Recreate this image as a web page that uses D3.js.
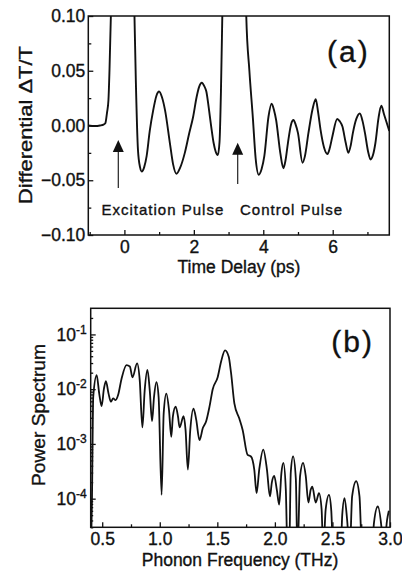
<!DOCTYPE html>
<html>
<head>
<meta charset="utf-8">
<script src="https://cdn.jsdelivr.net/npm/d3@7"></script>
<style>
body { margin: 0; background: #fff; }
svg text { font-family: "Liberation Sans", Arial, sans-serif; fill: #111; stroke: #111; stroke-width: 0.35px; }
</style>
</head>
<body>
<svg id="chart" width="402" height="576"></svg>
<script>
// panel (a): differential transmission vs time delay
const timeDelay = [-1.04, -0.85, -0.70, -0.60, -0.55, -0.50, -0.46, -0.43, -0.39, -0.30, -0.05, 0.20, 0.29, 0.33, 0.39, 0.45, 0.50, 0.57, 0.64, 0.73,
    0.83, 0.92, 1.00, 1.08, 1.17, 1.31, 1.40, 1.50, 1.60, 1.74, 1.86, 1.98, 2.08, 2.15, 2.23, 2.30, 2.36, 2.43, 2.50, 2.57,
    2.63, 2.69, 2.74, 2.78, 2.82, 2.90, 3.15, 3.42, 3.51, 3.60, 3.70, 3.78, 3.87, 3.95, 4.03, 4.15, 4.24, 4.31, 4.37, 4.49,
    4.58, 4.64, 4.71, 4.80, 4.87, 4.93, 5.00, 5.13, 5.20, 5.30, 5.42, 5.51, 5.58, 5.65, 5.75, 5.85, 5.92, 5.99, 6.13, 6.20,
    6.28, 6.37, 6.45, 6.52, 6.58, 6.68, 6.78, 6.86, 6.93, 7.02, 7.09, 7.16, 7.23, 7.32, 7.40, 7.48, 7.63];
const diffT = [0.0, -0.0005, 0.0, 0.0008, 0.002, 0.012, 0.023, 0.05, 0.10, 0.25, 0.6, 0.25, 0.10, 0.04, -0.022, -0.038, -0.042, -0.038, -0.028, -0.005,
    0.014, 0.027, 0.031, 0.026, 0.014, -0.016, -0.035, -0.044, -0.039, -0.025, -0.008, 0.008, 0.026, 0.035, 0.039, 0.036, 0.031, 0.016, -0.001, -0.016,
    -0.024, -0.027, -0.015, 0.03, 0.10, 0.25, 0.6, 0.25, 0.10, 0.05, 0.007, -0.03, -0.045, -0.04, -0.028, 0.008, 0.020, 0.014, 0.005, -0.025,
    -0.039, -0.032, -0.016, 0.001, 0.005, 0.001, -0.007, -0.034, -0.028, -0.007, 0.015, 0.024, 0.012, -0.004, -0.020, -0.026, -0.02, -0.01, 0.006, 0.004,
    -0.001, -0.015, -0.025, -0.018, -0.007, 0.006, 0.011, 0.004, -0.007, -0.024, -0.031, -0.027, -0.016, 0.007, 0.018, 0.010, -0.005];
const timeTicks = [0, 2, 4, 6];
const timeMinor = [-1, 1, 3, 5, 7];
const dtTicks = [-0.10, -0.05, 0.00, 0.05, 0.10];
const dtMinor = [-0.075, -0.025, 0.025, 0.075];

// panel (b): power spectrum vs phonon frequency
const freq = [0.405, 0.411, 0.422, 0.452, 0.474, 0.495, 0.515, 0.532, 0.555, 0.575, 0.595, 0.616, 0.638, 0.668, 0.711, 0.740, 0.763, 0.803, 0.826, 0.849,
    0.869, 0.893, 0.913, 0.933, 0.950, 0.971, 0.990, 1.016, 1.034, 1.057, 1.080, 1.100, 1.114, 1.138, 1.158, 1.172, 1.207, 1.224, 1.244, 1.265,
    1.293, 1.317, 1.345, 1.374, 1.403, 1.432, 1.460, 1.503, 1.533, 1.567, 1.599, 1.619, 1.648, 1.691, 1.720, 1.763, 1.792, 1.821, 1.841, 1.864,
    1.899, 1.931, 1.957, 1.974, 1.994, 2.017, 2.037, 2.057, 2.074, 2.095, 2.110, 2.124, 2.138, 2.158, 2.182, 2.196, 2.219, 2.245, 2.268, 2.291,
    2.311, 2.325, 2.355, 2.383, 2.406, 2.420, 2.441, 2.470, 2.490, 2.507, 2.571, 2.585, 2.605, 2.628, 2.650, 2.671, 2.706, 2.735, 2.758, 2.844,
    2.860, 2.894, 2.926, 2.945, 2.974, 2.990];
const power = [2e-5, 9.5e-5, 7.2e-3, 1.8e-2, 8.3e-3, 4.9e-3, 1.02e-2, 1.4e-2, 8.3e-3, 5.9e-3, 6.8e-3, 6.3e-3, 7.8e-3, 1.55e-2, 2.75e-2, 2.6e-2, 1.65e-2, 2.95e-2, 1.45e-2, 2.0e-3,
    9.5e-3, 2.25e-2, 9.5e-3, 2.6e-3, 7.2e-3, 1.35e-2, 7.2e-3, 1.17e-4, 3.6e-3, 8.3e-3, 4.2e-3, 1.35e-3, 3.2e-3, 4.8e-3, 3.2e-3, 2.0e-3, 3.2e-3, 1.8e-3, 3.4e-4, 1.8e-3,
    4.4e-3, 2.75e-3, 1.17e-3, 1.95e-3, 2.6e-3, 4.8e-3, 1.0e-2, 1.65e-2, 3.2e-2, 5.1e-2, 3.9e-2, 2.0e-2, 5.5e-3, 2.9e-3, 1.8e-3, 6.3e-4, 5.9e-4, 3.4e-4, 1.26e-4, 3.4e-4,
    7.9e-4, 3.4e-4, 1.1e-4, 2.0e-4, 2.6e-4, 1.45e-4, 7.8e-5, 3.0e-4, 4.5e-4, 1.45e-4, 1e-5, 1e-5, 3.0e-4, 5.9e-4, 2.3e-4, 1e-5, 2.6e-4, 4.5e-4, 2.6e-4, 8.5e-5,
    1.45e-4, 1.66e-4, 8.5e-5, 1.26e-4, 6.3e-5, 1e-5, 6.3e-5, 1.17e-4, 6e-5, 1e-5, 1e-5, 5e-5, 1.02e-4, 4e-5, 1e-5, 1.1e-4, 2.1e-4, 1.1e-4, 1e-5, 1e-5,
    3.5e-5, 7.2e-5, 3e-5, 1e-5, 4e-5, 6e-5];
const freqTicks = [0.5, 1.0, 1.5, 2.0, 2.5, 3.0];
const freqMinor = [0.75, 1.25, 1.75, 2.25, 2.75];
const powerTicks = [1e-4, 1e-3, 1e-2, 1e-1];

var Chart = function() {

    const svg = d3.select('#chart');
    const translate = (x, y) => `translate(${x}, ${y})`;

    var styleAxis = function(g, fontSize) {
        g.select('.domain').remove();
        g.selectAll('line').attr('stroke', '#111').attr('stroke-width', 1.3);
        g.selectAll('text').attr('font-size', fontSize).attr('fill', '#111')
            .attr('font-family', '"Liberation Sans", Arial, sans-serif');
    };

    var drawArrow = function(x, yTip, yEnd) {
        svg.append('line')
            .attr('x1', x).attr('x2', x)
            .attr('y1', yTip + 10).attr('y2', yEnd)
            .attr('stroke', '#222').attr('stroke-width', 1.2);
        svg.append('path')
            .attr('d', `M${x},${yTip} L${x - 5.5},${yTip + 12} L${x + 5.5},${yTip + 12} Z`)
            .attr('fill', '#111');
    };

    var buildTop = function() {
        const left = 88.3, top = 16, width = 301, height = 219;
        const x = d3.scaleLinear().domain([-1.04, 7.63]).range([0, width]);
        const y = d3.scaleLinear().domain([-0.1, 0.1]).range([height, 0]);
        const chart = svg.append('g').attr('transform', translate(left, top));

        chart.append('clipPath').attr('id', 'clipA')
            .append('rect').attr('width', width).attr('height', height);

        chart.append('g')
            .attr('transform', translate(0, height))
            .call(d3.axisBottom(x).tickValues(timeTicks).tickSizeInner(-5).tickSizeOuter(0).tickPadding(6))
            .call(g => styleAxis(g, 17.5));
        chart.append('g')
            .attr('transform', translate(0, height))
            .call(d3.axisBottom(x).tickValues(timeMinor).tickSizeInner(-3).tickSizeOuter(0).tickFormat(''))
            .call(g => styleAxis(g, 17.5));
        chart.append('g')
            .call(d3.axisLeft(y).tickValues(dtTicks).tickSizeInner(-5).tickSizeOuter(0).tickPadding(3).tickFormat(d3.format('.2f')))
            .call(g => styleAxis(g, 17.5));
        chart.append('g')
            .call(d3.axisLeft(y).tickValues(dtMinor).tickSizeInner(-3).tickSizeOuter(0).tickFormat(''))
            .call(g => styleAxis(g, 17.5));

        const line = d3.line()
            .x((d, i) => x(timeDelay[i]))
            .y(d => y(d))
            .curve(d3.curveMonotoneX);
        chart.append('path')
            .datum(diffT)
            .attr('clip-path', 'url(#clipA)')
            .attr('d', line)
            .attr('fill', 'none')
            .attr('stroke', '#111')
            .attr('stroke-width', 1.9)
            .attr('stroke-linejoin', 'round');

        chart.append('rect')
            .attr('width', width).attr('height', height)
            .attr('fill', 'none').attr('stroke', '#111').attr('stroke-width', 1.5);

        chart.append('text')
            .attr('x', 260).attr('y', 46)
            .attr('text-anchor', 'middle')
            .attr('font-size', 30)
            .attr('letter-spacing', 2)
            .text('(a)');

        svg.append('text')
            .attr('x', 101.5).attr('y', 215)
            .attr('font-size', 15).attr('letter-spacing', 1)
            .text('Excitation Pulse');
        svg.append('text')
            .attr('x', 240).attr('y', 215)
            .attr('font-size', 15).attr('letter-spacing', 1)
            .text('Control Pulse');
        drawArrow(118.3, 140, 188);
        drawArrow(237.7, 142.7, 184);

        svg.append('text')
            .attr('x', 239).attr('y', 273)
            .attr('text-anchor', 'middle')
            .attr('font-size', 17.5)
            .text('Time Delay (ps)');
        svg.append('text')
            .attr('transform', 'translate(32, 125) rotate(-90)')
            .attr('text-anchor', 'middle')
            .attr('font-size', 18)
            .attr('textLength', 158)
            .attr('lengthAdjust', 'spacingAndGlyphs')
            .text('Differential \u0394T/T');
    };

    var buildBottom = function() {
        const left = 90.7, top = 308.3, width = 299.3, height = 219;
        const x = d3.scaleLinear().domain([0.4, 3.0]).range([0, width]);
        const y = d3.scaleLog().domain([3e-5, 0.3]).range([height, 0]);
        const chart = svg.append('g').attr('transform', translate(left, top));

        chart.append('clipPath').attr('id', 'clipB')
            .append('rect').attr('width', width).attr('height', height);

        chart.append('g')
            .attr('transform', translate(0, height))
            .call(d3.axisBottom(x).tickValues(freqTicks).tickSizeInner(-5).tickSizeOuter(0).tickPadding(5).tickFormat(d3.format('.1f')))
            .call(g => styleAxis(g, 17.5));
        chart.append('g')
            .attr('transform', translate(0, height))
            .call(d3.axisBottom(x).tickValues(freqMinor).tickSizeInner(-3).tickSizeOuter(0).tickFormat(''))
            .call(g => styleAxis(g, 17.5));

        // log minor ticks 2..9 in every decade
        const logMinor = [];
        [1e-5, 1e-4, 1e-3, 1e-2, 1e-1].forEach(dec => {
            for (let k = 2; k <= 9; k++) {
                const v = dec * k;
                if (v > 3e-5 && v < 0.3) logMinor.push(v);
            }
        });
        chart.append('g')
            .call(d3.axisLeft(y).tickValues(logMinor).tickSizeInner(-2.5).tickSizeOuter(0).tickFormat(''))
            .call(g => styleAxis(g, 17.5));
        chart.append('g')
            .call(d3.axisLeft(y).tickValues(powerTicks).tickSizeInner(-5).tickSizeOuter(0).tickPadding(4).tickFormat(''))
            .call(g => styleAxis(g, 17.5))
            .call(g => g.selectAll('.tick text').each(function(d) {
                const t = d3.select(this);
                t.append('tspan').text('10');
                t.append('tspan').attr('dy', -7).attr('font-size', 12).text(Math.round(Math.log10(d)));
            }));

        const line = d3.line()
            .x((d, i) => x(freq[i]))
            .y(d => y(d))
            .curve(d3.curveMonotoneX);
        chart.append('path')
            .datum(power)
            .attr('clip-path', 'url(#clipB)')
            .attr('d', line)
            .attr('fill', 'none')
            .attr('stroke', '#111')
            .attr('stroke-width', 1.8)
            .attr('stroke-linejoin', 'round');

        chart.append('rect')
            .attr('width', width).attr('height', height)
            .attr('fill', 'none').attr('stroke', '#111').attr('stroke-width', 1.5);

        chart.append('text')
            .attr('x', 262).attr('y', 44)
            .attr('text-anchor', 'middle')
            .attr('font-size', 30)
            .attr('letter-spacing', 2)
            .text('(b)');

        svg.append('text')
            .attr('x', 240).attr('y', 566)
            .attr('text-anchor', 'middle')
            .attr('font-size', 17.5)
            .text('Phonon Frequency (THz)');
        svg.append('text')
            .attr('transform', 'translate(45, 415) rotate(-90)')
            .attr('text-anchor', 'middle')
            .attr('font-size', 18)
            .attr('textLength', 142)
            .attr('lengthAdjust', 'spacingAndGlyphs')
            .text('Power Spectrum');
    };

    return {
        init: function() {
            buildTop();
            buildBottom();
        }
    };
}();

document.addEventListener('DOMContentLoaded', function() {
    Chart.init();
});
</script>
</body>
</html>
